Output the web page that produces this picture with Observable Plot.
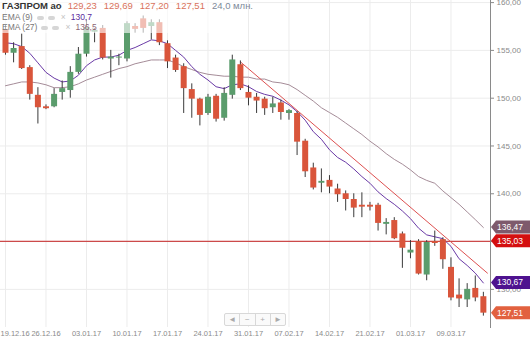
<!DOCTYPE html>
<html><head><meta charset="utf-8">
<script src="https://cdn.jsdelivr.net/npm/d3@7"></script>
<script src="https://cdn.jsdelivr.net/npm/@observablehq/plot@0.6"></script>
<style>
body{margin:0;background:#fff;font-family:"Liberation Sans",Arial,sans-serif;}
#wrap{position:relative;width:530px;height:342px;overflow:hidden;}
#legend{position:absolute;left:0;top:0;width:245px;height:33px;background:rgba(255,255,255,0.62);}
.ln{position:absolute;left:2px;white-space:nowrap;line-height:10px;}
.l1{top:1px;font-size:9.5px;}
.l1 b{color:#333;font-weight:bold;margin-right:6px;}
.l1 .v{color:#d9735c;margin-right:7px;}
.l1 .vol{color:#7d8a99;}
.l2{font-size:8.5px;color:#777;}
.eye{display:inline-block;width:7px;height:4px;border-radius:3px;background:#d6d6d6;margin-left:4px;vertical-align:middle;}
.x{color:#c4c4c4;margin:0 5px 0 6px;}
#nav{position:absolute;left:224px;top:313px;width:62px;height:13px;border:1px solid #d8d8d8;border-radius:2px;background:#fafafa;display:flex;box-sizing:border-box;}
#nav div{flex:1;text-align:center;font-size:8px;line-height:11px;color:#aaa;border-left:1px solid #d8d8d8;}
#nav div:first-child{border-left:none;}
</style></head>
<body><div id="wrap"></div>
<script>
// ---- data ----
const dateLabels = ["19.12.16","26.12.16","03.01.17","10.01.17","17.01.17","24.01.17","31.01.17","07.02.17","14.02.17","21.02.17","01.03.17","09.03.17"];
const dateTickIdx = [0,5,10,15,20,25,30,35,40,45,50,55];
const open  = [157.2,154.7,155.4,153.2,150.3,149.1,149.1,150.6,150.8,152.7,154.6,156.9,157.3,154.1,154.2,154.1,157.5,158.3,157.5,157.9,155.7,154.2,153.3,150.9,149.9,148.4,150.2,147.9,150.3,153.5,150.6,150.1,149.9,149.0,149.5,148.4,148.4,145.5,142.7,141.1,141.4,140.5,140.0,139.4,138.8,138.8,138.8,136.8,137.2,135.8,133.8,135.0,131.5,135.0,135.2,132.3,129.4,128.9,130.1,129.23];
const high  = [157.6,155.8,156.7,153.4,151.1,149.3,151.0,151.8,153.3,155.3,158.2,157.3,157.6,155.0,154.6,158.0,157.8,158.6,158.2,158.2,156.0,154.5,153.6,151.5,150.0,150.4,150.4,151.1,154.5,153.9,151.3,150.5,150.1,150.1,149.8,148.8,148.6,145.7,143.2,142.6,141.9,141.0,140.3,140.0,140.1,139.1,139.0,137.4,137.5,136.0,135.1,135.2,135.1,136.1,135.4,133.3,131.1,130.6,131.4,129.69];
const low   = [154.5,153.7,153.0,149.8,147.3,148.8,149.0,149.8,150.0,152.5,154.3,155.8,154.0,152.1,153.4,153.8,156.8,156.8,156.1,155.5,153.1,152.7,148.4,147.9,147.1,148.2,147.5,147.6,149.9,150.8,149.2,148.4,148.2,148.4,147.7,147.7,144.0,141.7,140.4,140.1,140.0,139.1,138.2,137.5,137.5,138.2,136.1,135.7,135.2,132.2,133.2,131.5,130.9,134.5,132.1,128.8,128.1,128.1,128.7,127.20];
const close = [154.7,155.2,153.1,150.4,149.0,148.9,150.4,151.0,152.7,154.6,157.4,157.1,154.2,154.3,154.3,157.8,157.2,157.3,157.9,155.8,153.8,152.9,151.0,149.9,148.2,150.1,147.8,150.5,154.0,151.0,150.0,149.7,148.9,149.4,148.5,148.7,145.4,142.3,140.6,141.3,140.7,139.9,139.4,138.5,138.6,138.6,136.9,137.0,135.3,134.3,134.1,131.6,134.9,134.8,133.1,129.1,129.0,130.0,129.1,127.51];
const ema9  = [155.8,155.7,155.4,154.7,153.7,152.7,152.1,151.7,151.8,152.4,153.4,154.0,154.3,154.3,154.5,155.0,155.3,155.7,156.1,156.0,155.7,155.0,154.3,153.3,152.5,151.9,151.2,151.0,151.4,151.5,151.2,150.7,150.4,150.2,149.8,149.3,148.6,147.7,146.5,145.7,144.6,143.8,143.3,142.6,141.8,141.1,140.2,139.5,138.9,138.2,137.4,136.4,135.7,135.5,135.3,134.5,133.2,132.5,131.7,130.67];
const ema27 = [151.3,151.5,151.7,151.7,151.6,151.4,151.1,151.1,151.2,151.5,151.9,152.2,152.5,152.8,153.1,153.3,153.6,153.8,154.0,154.0,154.0,153.7,153.3,153.0,152.7,152.5,152.4,152.3,152.3,152.2,152.2,152.0,152.0,151.7,151.6,151.4,150.9,150.3,149.7,149.0,148.5,148.0,147.4,146.8,146.2,145.5,144.9,144.2,143.6,143.1,142.5,141.8,141.4,141.1,140.3,139.6,138.9,138.1,137.3,136.47];
const trendIdx = [29, 59.5];
const trendVal = [153.8, 131.7];
const levelVal = [135.03];
const yTicks = [130,135,140,145,150,155,160];
const tagValues = [136.47, 135.03, 130.67, 127.51];
const tagColors = ["#7e5a6c", "#d40f0f", "#4e128f", "#e2613f"];
const ticker = "ГАЗПРОМ ао";
const volumeLabel = "24,0 млн.";
const emaNames = ["EMA (9)", "EMA (27)"];
const emaLegend = [130.7, 136.5];

// ---- build ----
const fmt = v => v.toFixed(2).replace(".", ",");
const candles = open.map((o, i) => ({i, o, h: high[i], l: low[i], c: close[i]}));
const e9 = ema9.map((v, i) => ({i, v}));
const e27 = ema27.map((v, i) => ({i, v}));
const trend = trendIdx.map((x, k) => ({x, v: trendVal[k]}));
const ticks = dateTickIdx.map((i, k) => ({i, label: dateLabels[k]}));
const RED = "#d9553b", GREEN = "#5a9c6c";

const chart = Plot.plot({
  width: 530, height: 342,
  marginLeft: 0, marginRight: 40, marginTop: 0, marginBottom: 15,
  style: {fontFamily: "Liberation Sans, Arial, sans-serif", fontSize: "8px", color: "#8a8a8a", background: "transparent", overflow: "visible"},
  x: {domain: [-0.617, 59.88], axis: null},
  y: {domain: [126.01, 160.22], axis: "right", ticks: yTicks, tickFormat: fmt, tickSize: 3, tickPadding: 3, line: true, label: null},
  marks: [
    Plot.ruleY(yTicks, {stroke: "#ececec"}),
    Plot.ruleX(ticks, {x: "i", stroke: "#ececec"}),
    Plot.text(ticks.slice(0,1), {x: "i", text: "label", frameAnchor: "bottom", dy: 8, dx: -5, textAnchor: "start", fill: "#8a8a8a", fontSize: 7.5}),
    Plot.text(ticks.slice(1), {x: "i", text: "label", frameAnchor: "bottom", dy: 8, fill: "#8a8a8a", fontSize: 7.5}),
    Plot.ruleY(levelVal, {stroke: "#c41e1e", strokeWidth: 1}),
    Plot.line(e27, {x: "i", y: "v", stroke: "#a58c98", strokeWidth: 1}),
    Plot.line(e9, {x: "i", y: "v", stroke: "#6a3aa6", strokeWidth: 1}),
    Plot.line(trend, {x: "x", y: "v", stroke: "#dd5050", strokeWidth: 1}),
    Plot.ruleX(candles, {x: "i", y1: "l", y2: "h", stroke: "#3a3a3a", strokeWidth: 1}),
    Plot.ruleX(candles, {x: "i", y1: "o", y2: "c", stroke: d => d.c >= d.o ? GREEN : RED, strokeWidth: 6, strokeLinecap: "butt"})
  ]
});

// price tags on the right axis, positioned with the chart's own scales
const svg = d3.select(chart);
const ys = chart.scale("y"), xs = chart.scale("x");
const x0 = xs.range[1] + 1;
const g = svg.append("g").attr("text-anchor", "start");
tagValues.forEach((v, k) => {
  const yy = ys.apply(v);
  g.append("path")
    .attr("d", `M${x0},${yy} L${x0+5},${yy-6.5} L530,${yy-6.5} L530,${yy+6.5} L${x0+5},${yy+6.5} Z`)
    .attr("fill", tagColors[k]);
  g.append("text").attr("x", x0 + 6).attr("y", yy).attr("dy", "0.35em")
    .attr("text-anchor", "start")
    .attr("fill", "#fff").attr("font-size", 8.5).attr("font-family", "Liberation Sans, Arial, sans-serif")
    .text(fmt(v));
});

const wrap = document.getElementById("wrap");
wrap.appendChild(chart);

const last = candles[candles.length - 1];
const legend = document.createElement("div");
legend.id = "legend";
legend.innerHTML =
  `<div class="ln l1"><b>${ticker}</b>` +
  [last.o, last.h, last.l, last.c].map(v => `<span class="v">${fmt(v)}</span>`).join("") +
  `<span class="vol">${volumeLabel}</span></div>` +
  `<div class="ln l2" style="top:12px">${emaNames[0]}<span class="eye"></span><span class="eye"></span><span class="x">×</span><span style="color:#5a2a9c">${String(emaLegend[0]).replace(".", ",")}</span></div>` +
  `<div class="ln l2" style="top:22px">${emaNames[1]}<span class="eye"></span><span class="eye"></span><span class="x">×</span><span style="color:#8c6474">${String(emaLegend[1]).replace(".", ",")}</span></div>`;
wrap.appendChild(legend);

const nav = document.createElement("div");
nav.id = "nav";
nav.innerHTML = "<div>◄</div><div>−</div><div>+</div><div>►</div>";
wrap.appendChild(nav);
</script>
</body></html>
